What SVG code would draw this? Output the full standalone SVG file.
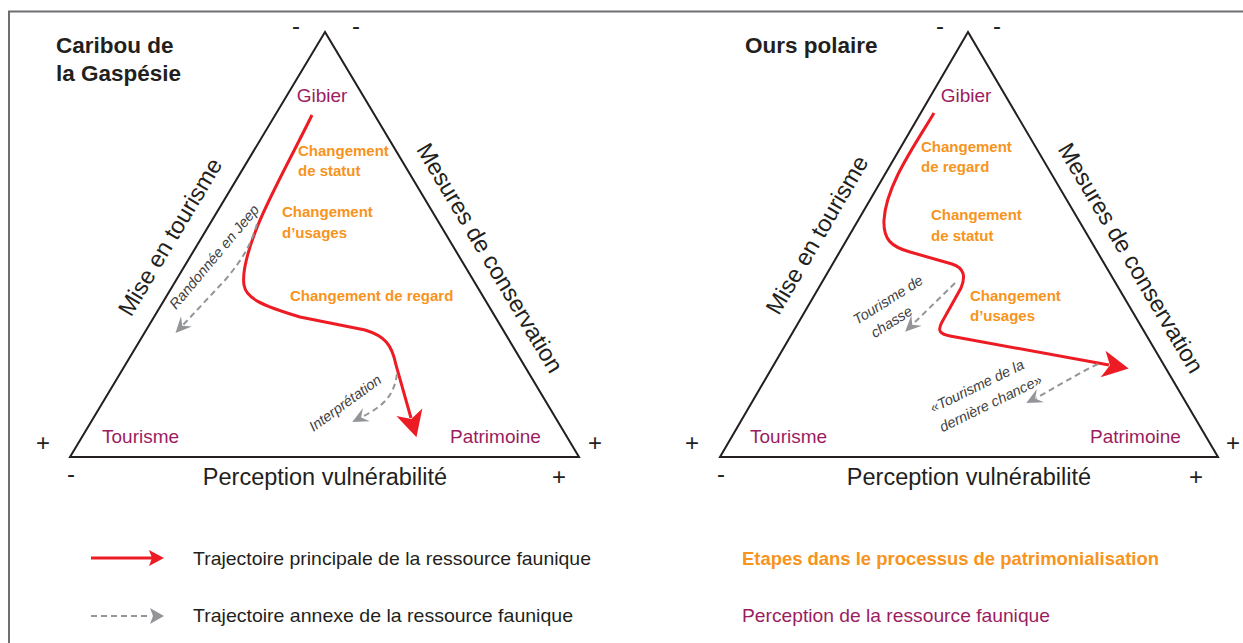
<svg xmlns="http://www.w3.org/2000/svg" width="1243" height="643" viewBox="0 0 1243 643">
<defs>
<style>
text{font-family:"Liberation Sans",Arial,sans-serif;fill:#231f20}
.title{font-size:22.5px;font-weight:bold}
.axis{font-size:23.5px}
.sign{font-size:24px}
.perc{font-size:19px;fill:#9b1d5f}
.step{font-size:15px;font-weight:bold;fill:#f7941d}
.ital{font-size:14.5px;font-style:italic;fill:#414042}
.leg{font-size:19px}
.tri{fill:none;stroke:#231f20;stroke-width:2;stroke-linejoin:miter}
.main{fill:none;stroke:#ed1c24;stroke-width:3;stroke-linecap:butt}
.annex{fill:none;stroke:#939598;stroke-width:2;stroke-dasharray:6 4}
</style>
<marker id="redHead" markerUnits="userSpaceOnUse" viewBox="-10 -15 32 30" refX="-1" refY="0" markerWidth="32" markerHeight="30" orient="auto">
<path d="M19,0 L-7,-13.5 L0,0 L-7,13.5 Z" fill="#ed1c24"/>
</marker>
<marker id="grayHead" markerUnits="userSpaceOnUse" viewBox="-8 -9 20 18" refX="-1" refY="0" markerWidth="20" markerHeight="18" orient="auto">
<path d="M10,0 L-6,-7.5 L0,0 L-6,7.5 Z" fill="#939598"/>
</marker>
</defs>
<rect width="1243" height="643" fill="#ffffff"/>
<g id="frame">
<path d="M9,643 L9,11.5 L1243,11.5" fill="none" stroke="#6d6e71" stroke-width="2"/>
</g>

<!-- LEFT PANEL -->
<g id="caribou-triangle">
<polygon class="tri" points="325,32 70,457 579,457"/>
</g>
<g id="caribou-title">
<text class="title" x="56" y="53">Caribou de</text>
<text class="title" x="56" y="81">la Gaspésie</text>
</g>
<g id="caribou-signs">
<text class="sign" x="296" y="34" text-anchor="middle">-</text>
<text class="sign" x="356" y="34" text-anchor="middle">-</text>
<text class="sign" x="43" y="451" text-anchor="middle">+</text>
<text class="sign" x="595" y="451" text-anchor="middle">+</text>
<text class="sign" x="71" y="482" text-anchor="middle">-</text>
<text class="sign" x="559" y="485" text-anchor="middle">+</text>
</g>
<g id="caribou-axis-tourisme">
<text class="axis" text-anchor="middle" transform="translate(177,241) rotate(-59)">Mise en tourisme</text>
</g>
<g id="caribou-axis-conservation">
<text class="axis" text-anchor="middle" transform="translate(483,262) rotate(59.2)">Mesures de conservation</text>
</g>
<g id="caribou-axis-vulnerabilite">
<text class="axis" x="325" y="485" text-anchor="middle">Perception vulnérabilité</text>
</g>
<g id="caribou-gibier"><text class="perc" x="322" y="102" text-anchor="middle">Gibier</text></g>
<g id="caribou-tourisme"><text class="perc" x="102" y="443">Tourisme</text></g>
<g id="caribou-patrimoine"><text class="perc" x="450" y="443">Patrimoine</text></g>
<g id="caribou-step-statut">
<text class="step" x="298" y="156">Changement</text>
<text class="step" x="298" y="176">de statut</text>
</g>
<g id="caribou-step-usages">
<text class="step" x="282" y="217">Changement</text>
<text class="step" x="282" y="238">d’usages</text>
</g>
<g id="caribou-step-regard">
<text class="step" x="290" y="301">Changement de regard</text>
</g>
<g id="caribou-annex-jeep">
<text class="ital" text-anchor="middle" transform="translate(218,260) rotate(-50)">Randonnée en Jeep</text>
</g>
<g id="caribou-annex-interpretation">
<text class="ital" text-anchor="middle" transform="translate(348,407) rotate(-36)">Interprétation</text>
</g>

<!-- RIGHT PANEL -->
<g id="ours-triangle">
<polygon class="tri" points="968,32 720,457 1218,457"/>
</g>
<g id="ours-title">
<text class="title" x="745" y="53">Ours polaire</text>
</g>
<g id="ours-signs">
<text class="sign" x="940" y="34" text-anchor="middle">-</text>
<text class="sign" x="997" y="34" text-anchor="middle">-</text>
<text class="sign" x="692" y="451" text-anchor="middle">+</text>
<text class="sign" x="1233" y="451" text-anchor="middle">+</text>
<text class="sign" x="721" y="482" text-anchor="middle">-</text>
<text class="sign" x="1196" y="485" text-anchor="middle">+</text>
</g>
<g id="ours-axis-tourisme">
<text class="axis" text-anchor="middle" transform="translate(824,239) rotate(-59.7)">Mise en tourisme</text>
</g>
<g id="ours-axis-conservation">
<text class="axis" text-anchor="middle" transform="translate(1124,262) rotate(59.5)">Mesures de conservation</text>
</g>
<g id="ours-axis-vulnerabilite">
<text class="axis" x="969" y="485" text-anchor="middle">Perception vulnérabilité</text>
</g>
<g id="ours-gibier"><text class="perc" x="966" y="102" text-anchor="middle">Gibier</text></g>
<g id="ours-tourisme"><text class="perc" x="750" y="443">Tourisme</text></g>
<g id="ours-patrimoine"><text class="perc" x="1090" y="443">Patrimoine</text></g>
<g id="ours-step-regard">
<text class="step" x="921" y="152">Changement</text>
<text class="step" x="921" y="172">de regard</text>
</g>
<g id="ours-step-statut">
<text class="step" x="931" y="220">Changement</text>
<text class="step" x="931" y="241">de statut</text>
</g>
<g id="ours-step-usages">
<text class="step" x="970" y="301">Changement</text>
<text class="step" x="970" y="321">d’usages</text>
</g>
<g id="ours-annex-chasse">
<text class="ital" transform="translate(857,325) rotate(-32)"><tspan x="0" y="0">Tourisme de</tspan><tspan x="8" y="20.5">chasse</tspan></text>
</g>
<g id="ours-annex-derniere">
<text class="ital" transform="translate(933,413) rotate(-26)"><tspan x="0" y="0">«Tourisme de la</tspan><tspan x="0" y="21.5">dernière chance»</tspan></text>
</g>

<!-- CONNECTORS -->
<g id="connectors">
<path class="main" marker-end="url(#redHead)" d="M312,115 C295,150 270,195 258,225 C248,250 242,272 244,285 C246,298 260,305 300,317 L365,330 C385,336 392,345 396,365 L411,418"/>
<path class="annex" marker-end="url(#grayHead)" d="M257,224 C250,248 240,262 226,279 L183,325"/>
<path class="annex" marker-end="url(#grayHead)" d="M397,374 C394,395 385,405 362,417"/>
<path class="main" marker-end="url(#redHead)" d="M934,113 C915,145 886,185 884,220 C883,240 892,247 910,252 L952,264 C964,268 966,276 961,288 L942,322 C937,331 940,334 950,336 L1109,365"/>
<path class="annex" marker-end="url(#grayHead)" d="M955,283 L913,324"/>
<path class="annex" marker-end="url(#grayHead)" d="M1098,364 C1075,375 1055,388 1036,398"/>
</g>

<!-- LEGEND -->
<g id="legend-main">
<line x1="91" y1="558" x2="152" y2="558" stroke="#ed1c24" stroke-width="3"/>
<path d="M164,558 L149,550 L152,558 L149,566 Z" fill="#ed1c24"/>
<text class="leg" x="193" y="565" textLength="398" lengthAdjust="spacingAndGlyphs">Trajectoire principale de la ressource faunique</text>
</g>
<g id="legend-annex">
<line x1="91" y1="616" x2="151" y2="616" stroke="#939598" stroke-width="2" stroke-dasharray="6 4"/>
<path d="M164,616 L150,608 L153,616 L150,624 Z" fill="#939598"/>
<text class="leg" x="193" y="622" textLength="380" lengthAdjust="spacingAndGlyphs">Trajectoire annexe de la ressource faunique</text>
</g>
<g id="legend-steps">
<text class="leg" x="742" y="565" textLength="417" lengthAdjust="spacingAndGlyphs" style="font-weight:bold;fill:#f7941d">Etapes dans le processus de patrimonialisation</text>
</g>
<g id="legend-perception">
<text class="leg" x="742" y="622" textLength="308" lengthAdjust="spacingAndGlyphs" style="fill:#9b1d5f">Perception de la ressource faunique</text>
</g>
</svg>
